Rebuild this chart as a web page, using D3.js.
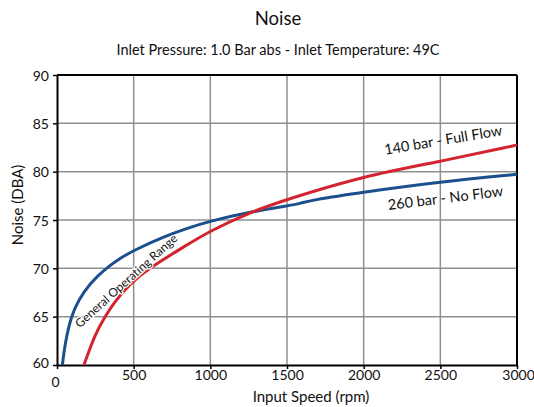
<!DOCTYPE html>
<html><head><meta charset="utf-8">
<script src="https://cdn.jsdelivr.net/npm/d3@7"></script>
<style>body{margin:0;background:#fff}svg{display:block}text{font-family:Lato,"Open Sans",sans-serif;fill:#111;font-variant-ligatures:none}</style>
</head><body><svg id="c" width="534" height="407"></svg>
<script>
const xTicks=[0,500,1000,1500,2000,2500,3000];
const yTicks=[60,65,70,75,80,85,90];
const blueX=[35,52,91,139,215,313,422,500,700,850,1000,1268,1500,1600,1640,2000,2500,3000];
const blueY=[60,62.2,65,66.7,68.45,69.95,71.15,71.85,73.3,74.15,74.9,75.86,76.45,76.75,77.0,77.9,78.96,79.73];
const redX=[176,248,313,378,476,585,824,1000,1268,1500,2000,2500,3000];
const redY=[60,63.2,65,66.6,68.4,69.85,72.2,73.9,75.86,77.14,79.55,81.05,82.76];
const title="Noise";
const subtitle="Inlet Pressure: 1.0 Bar abs - Inlet Temperature: 49C";

const svg=d3.select("#c");
const m={l:57,r:517,t:75,b:365};
const x=d3.scaleLinear().domain([0,3000]).range([m.l,m.r]);
const y=d3.scaleLinear().domain([60,90]).range([m.b,m.t]);

// grid
svg.append("g").selectAll("line").data(xTicks.slice(1,-1)).join("line")
 .attr("x1",d=>x(d)).attr("x2",d=>x(d)).attr("y1",m.t).attr("y2",m.b).attr("stroke","#8f8f8f").attr("stroke-width",1.5);
svg.append("g").selectAll("line").data(yTicks.slice(1,-1)).join("line")
 .attr("y1",d=>y(d)).attr("y2",d=>y(d)).attr("x1",m.l).attr("x2",m.r).attr("stroke","#8f8f8f").attr("stroke-width",1.5);

// axes
const fmt=d3.format("d");
const xa=svg.append("g").attr("transform",`translate(0,${m.b})`).call(d3.axisBottom(x).tickValues(xTicks).tickFormat(fmt).tickSize(4).tickSizeOuter(0));
const ya=svg.append("g").attr("transform",`translate(${m.l},0)`).call(d3.axisLeft(y).tickValues(yTicks).tickFormat(fmt).tickSize(4).tickSizeOuter(0));
[xa,ya].forEach(a=>{a.select(".domain").attr("stroke","#000").attr("stroke-width",2);a.selectAll(".tick line").attr("stroke","#000").attr("stroke-width",1.5);a.selectAll("text").attr("font-size",14).attr("font-family","Lato,sans-serif").attr("fill","#111");});
xa.selectAll("text").attr("dy","0.6em");
xa.selectAll(".tick").filter(d=>d===0).select("text").attr("dy","1.05em").attr("dx","-2");
xa.selectAll(".tick").filter(d=>d===3000).select("text").attr("dx","1");
ya.selectAll("text").attr("dx","-1").attr("dy","0.36em");
ya.selectAll(".tick").filter(d=>d===60).select("text").attr("dy","0.2em");
// top & right frame
svg.append("line").attr("x1",m.l).attr("x2",m.r).attr("y1",m.t).attr("y2",m.t).attr("stroke","#000").attr("stroke-width",2);
svg.append("line").attr("x1",m.r).attr("x2",m.r).attr("y1",m.t).attr("y2",m.b).attr("stroke","#000").attr("stroke-width",2);

const line=d3.line().x(d=>x(d[0])).y(d=>y(d[1])).curve(d3.curveBasis);
svg.append("path").datum(d3.zip(blueX,blueY)).attr("d",line).attr("fill","none").attr("stroke","#1c4f8d").attr("stroke-width",3);
svg.append("path").datum(d3.zip(redX,redY)).attr("d",line).attr("fill","none").attr("stroke","#d2232e").attr("stroke-width",3);

// texts
svg.append("text").attr("x",278).attr("y",25).attr("text-anchor","middle").attr("font-size",18.5).text(title);
svg.append("text").attr("x",278).attr("y",55).attr("text-anchor","middle").attr("font-size",14.5).text(subtitle);
svg.append("text").attr("x",311).attr("y",402).attr("text-anchor","middle").attr("font-size",15).text("Input Speed (rpm)");
svg.append("text").attr("transform","translate(23,205) rotate(-90)").attr("text-anchor","middle").attr("font-size",15).text("Noise (DBA)");
svg.append("text").attr("transform","translate(444,145) rotate(-9.5)").attr("text-anchor","middle").attr("font-size",14.5).text("140 bar - Full Flow");
svg.append("text").attr("transform","translate(446,203) rotate(-7)").attr("text-anchor","middle").attr("font-size",14.5).text("260 bar - No Flow");
svg.append("text").attr("transform","translate(129,284) rotate(-42)").attr("text-anchor","middle").attr("font-size",12)
 .attr("stroke","#fff").attr("stroke-width",2.5).attr("paint-order","stroke").text("General Operating Range");
</script></body></html>
